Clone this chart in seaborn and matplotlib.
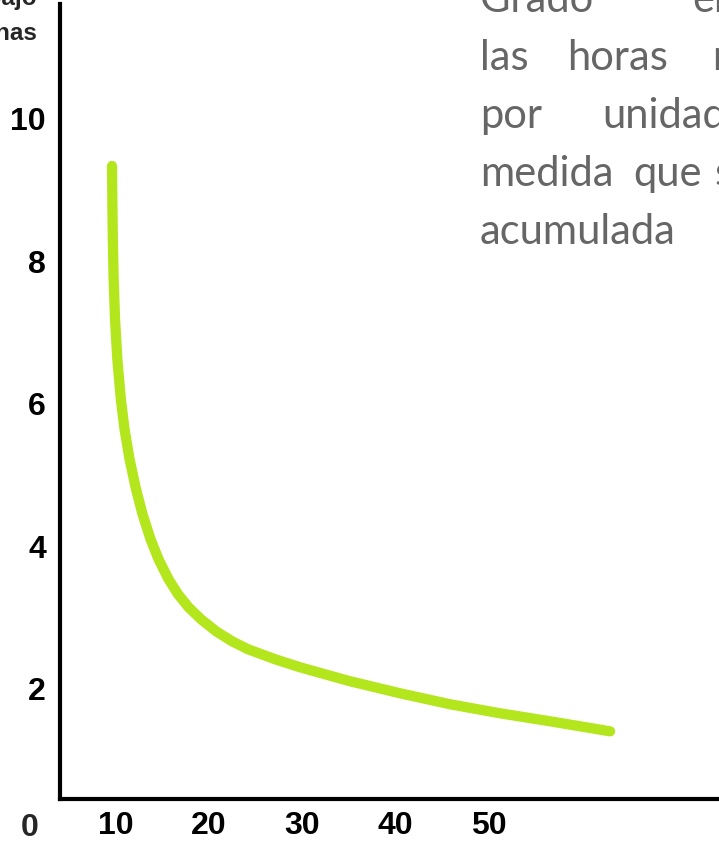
import matplotlib
matplotlib.use("Agg")
import matplotlib.pyplot as plt
import seaborn as sns
import pandas as pd

# Learning curve: hours per unit versus cumulative production
produccion = [9.646, 9.678, 9.732, 9.818, 9.968, 10.214, 10.590, 10.986, 11.522, 12.219,
              12.915, 13.773, 14.630, 15.702, 16.720, 17.846, 19.185, 20.793, 22.508, 24.223,
              27.117, 29.796, 35.155, 40.514, 45.874, 51.233, 56.592, 63.023]
horas = [9.326, 8.862, 8.301, 7.739, 7.177, 6.615, 6.053, 5.632, 5.211, 4.789,
         4.438, 4.087, 3.806, 3.525, 3.315, 3.132, 2.963, 2.795, 2.654, 2.542,
         2.402, 2.289, 2.093, 1.924, 1.770, 1.643, 1.531, 1.390]

x_ticks = [10, 20, 30, 40, 50]
x_tick_labels = ["10", "20", "30", "40", "50"]
y_ticks = [2, 4, 6, 8, 10]
y_tick_labels = ["2", "4", "6", "8", "10"]

texto_lineas = [
    [("Grado", 480), ("en", 692)],
    [("las", 480), ("horas", 567), ("necesarias", 712)],
    [("por", 480), ("unidad", 602)],
    [("medida", 480), ("que", 633), ("se", 715)],
    [("acumulada", 480)],
]

sns.set_theme(style="white")
plt.rcParams["font.family"] = ["Liberation Sans", "DejaVu Sans"]

W, H = 719, 845
fig = plt.figure(figsize=(W / 100, H / 100), dpi=100)
ax = fig.add_axes([60 / W, 45 / H, 1 - 60 / W, 795 / H])

df = pd.DataFrame({"produccion": produccion, "horas": horas})
sns.lineplot(data=df, x="produccion", y="horas", ax=ax, color="#b4e61e",
             linewidth=7.4, solid_capstyle="round", solid_joinstyle="round",
             sort=False)

ax.set_xlim(4.07, 74.7)
ax.set_ylim(0.44, 11.6)
ax.set_xlabel("")
ax.set_ylabel("")

for side in ("top", "right"):
    ax.spines[side].set_visible(False)
for side in ("left", "bottom"):
    ax.spines[side].set_linewidth(3)
    ax.spines[side].set_color("black")

ax.set_xticks(x_ticks)
ax.set_xticklabels(x_tick_labels, fontweight="bold", fontsize=23,
                   family=["Liberation Sans Narrow", "Liberation Sans", "DejaVu Sans"])
ax.set_yticks(y_ticks)
ax.set_yticklabels(y_tick_labels, fontweight="bold", fontsize=23)
ax.tick_params(axis="both", length=0, colors="black")
ax.tick_params(axis="x", pad=8)
ax.tick_params(axis="y", pad=10)

# Shared origin label
fig.text(30 / W, 1 - 828 / H, "0", ha="center", va="center", fontweight="bold",
         fontsize=23, family=["Liberation Sans Narrow", "Liberation Sans", "DejaVu Sans"])

# Axis title (partly outside the frame)
fig.text(37 / W, 1 - 5 / H, "Horas de trabajo", ha="right", va="baseline",
         fontweight="bold", fontsize=17.5)
fig.text(37 / W, 1 - 40 / H, "por semanas", ha="right", va="baseline",
         fontweight="bold", fontsize=17.5)

# Explanatory paragraph
for i, linea in enumerate(texto_lineas):
    base = 12 + 58 * i
    for palabra, x in linea:
        fig.text(x / W, 1 - base / H, palabra, ha="left", va="baseline",
                 fontsize=30, color="#666666", family=["Lato", "DejaVu Sans"])

fig.savefig("out.png", dpi=100)
